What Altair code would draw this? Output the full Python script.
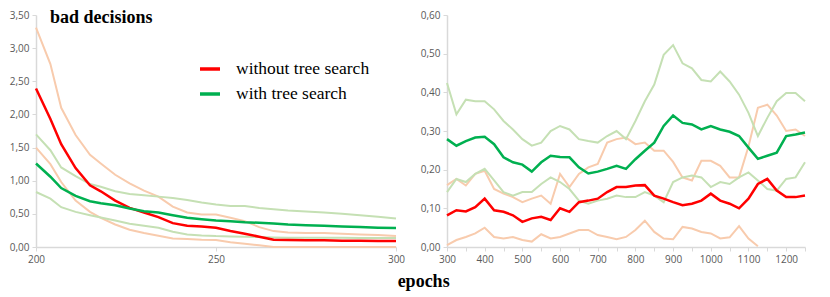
import altair as alt
import pandas as pd

# ---------------- left panel (epochs 200-300) ----------------
left_epochs = [200, 204, 207, 211, 215, 218, 222, 226, 230, 234, 238, 242, 246,
               250, 254, 258, 262, 266, 270, 275, 280, 285, 290, 295, 300]
left_without = [2.39, 1.93, 1.55, 1.19, 0.93, 0.84, 0.70, 0.59, 0.52, 0.45, 0.36, 0.32, 0.31,
                0.29, 0.24, 0.20, 0.155, 0.11, 0.105, 0.10, 0.10, 0.095, 0.095, 0.09, 0.09]
left_without_hi = [3.31, 2.76, 2.10, 1.69, 1.39, 1.26, 1.09, 0.96, 0.85, 0.76, 0.61, 0.52, 0.49,
                   0.49, 0.44, 0.39, 0.30, 0.24, 0.22, 0.21, 0.21, 0.20, 0.19, 0.18, 0.165]
left_without_lo = [1.50, 1.25, 0.98, 0.70, 0.53, 0.44, 0.34, 0.26, 0.21, 0.17, 0.13, 0.12, 0.11,
                   0.105, 0.07, 0.05, 0.025, 0.0, 0.0, 0.0, 0.0, 0.0, 0.0, 0.0, 0.0]
left_with = [1.26, 1.06, 0.89, 0.77, 0.69, 0.66, 0.63, 0.58, 0.54, 0.52, 0.48, 0.44, 0.42,
             0.40, 0.39, 0.375, 0.365, 0.355, 0.34, 0.33, 0.32, 0.31, 0.30, 0.29, 0.285]
left_with_hi = [1.70, 1.46, 1.20, 1.07, 0.95, 0.91, 0.84, 0.80, 0.78, 0.76, 0.74, 0.71, 0.67,
                0.64, 0.62, 0.62, 0.59, 0.57, 0.55, 0.535, 0.52, 0.50, 0.48, 0.455, 0.43]
left_with_lo = [0.83, 0.73, 0.60, 0.53, 0.48, 0.445, 0.40, 0.35, 0.32, 0.29, 0.23, 0.19, 0.175,
                0.165, 0.16, 0.155, 0.15, 0.145, 0.14, 0.14, 0.14, 0.14, 0.135, 0.135, 0.135]

# ---------------- right panel (epochs 300-1250) ----------------
right_epochs = [300, 325, 350, 375, 400, 425, 450, 475, 500, 525, 550, 575, 600, 625, 650,
                675, 700, 725, 750, 775, 800, 825, 850, 875, 900, 925, 950, 975, 1000, 1025,
                1050, 1075, 1100, 1125, 1150, 1175, 1200, 1225, 1250]
right_with = [0.279, 0.262, 0.274, 0.283, 0.285, 0.266, 0.232, 0.219, 0.213, 0.195, 0.219, 0.236,
              0.233, 0.232, 0.206, 0.190, 0.195, 0.202, 0.210, 0.202, 0.227, 0.249, 0.270, 0.313,
              0.340, 0.321, 0.317, 0.304, 0.313, 0.304, 0.298, 0.287, 0.257, 0.228, 0.236, 0.244,
              0.287, 0.291, 0.296]
right_with_hi = [0.424, 0.343, 0.381, 0.377, 0.377, 0.356, 0.326, 0.304, 0.279, 0.262, 0.270, 0.300,
                 0.313, 0.304, 0.279, 0.274, 0.270, 0.287, 0.300, 0.279, 0.326, 0.377, 0.420, 0.497,
                 0.522, 0.475, 0.462, 0.432, 0.428, 0.454, 0.428, 0.394, 0.347, 0.287, 0.334, 0.377,
                 0.398, 0.398, 0.377]
right_with_lo = [0.142, 0.176, 0.168, 0.189, 0.202, 0.172, 0.142, 0.133, 0.142, 0.142, 0.163, 0.180,
                 0.168, 0.150, 0.120, 0.112, 0.120, 0.125, 0.133, 0.129, 0.129, 0.142, 0.133, 0.116,
                 0.168, 0.180, 0.185, 0.180, 0.155, 0.168, 0.163, 0.180, 0.193, 0.172, 0.150, 0.146,
                 0.176, 0.180, 0.219]
right_without = [0.082, 0.095, 0.092, 0.103, 0.125, 0.095, 0.091, 0.082, 0.065, 0.074, 0.078, 0.070,
                 0.100, 0.091, 0.116, 0.120, 0.125, 0.142, 0.155, 0.155, 0.159, 0.160, 0.133, 0.125,
                 0.116, 0.108, 0.112, 0.120, 0.138, 0.120, 0.112, 0.100, 0.125, 0.163, 0.176, 0.146,
                 0.129, 0.129, 0.133]
right_without_hi = [0.160, 0.176, 0.159, 0.189, 0.197, 0.150, 0.138, 0.129, 0.116, 0.125, 0.133, 0.112,
                    0.189, 0.155, 0.189, 0.206, 0.215, 0.270, 0.279, 0.283, 0.266, 0.270, 0.249, 0.249,
                    0.220, 0.180, 0.172, 0.223, 0.223, 0.210, 0.180, 0.180, 0.260, 0.360, 0.368, 0.340,
                    0.300, 0.304, 0.287]
right_without_lo = [0.005, 0.018, 0.026, 0.035, 0.050, 0.026, 0.022, 0.026, 0.018, 0.014, 0.033, 0.022,
                    0.026, 0.035, 0.044, 0.044, 0.031, 0.026, 0.020, 0.026, 0.044, 0.068, 0.039, 0.022,
                    0.020, 0.052, 0.048, 0.039, 0.035, 0.022, 0.025, 0.054, 0.022, 0.002, None, None,
                    None, None, None]

series_names = ["without tree search", "with tree search"]
main_colors = ["#ff0000", "#00b050"]
band_colors = ["#f8cbad", "#c5e0b4"]


def long_df(epochs, groups):
    rows = []
    for series, kind, vals in groups:
        for e, v in zip(epochs, vals):
            rows.append({"epoch": e, "series": series, "kind": kind, "value": v})
    return pd.DataFrame(rows)


left_df = long_df(left_epochs, [
    ("without tree search", "hi", left_without_hi),
    ("without tree search", "lo", left_without_lo),
    ("with tree search", "hi", left_with_hi),
    ("with tree search", "lo", left_with_lo),
    ("without tree search", "mean", left_without),
    ("with tree search", "mean", left_with),
])
right_df = long_df(right_epochs, [
    ("without tree search", "hi", right_without_hi),
    ("without tree search", "lo", right_without_lo),
    ("with tree search", "hi", right_with_hi),
    ("with tree search", "lo", right_with_lo),
    ("without tree search", "mean", right_without),
    ("with tree search", "mean", right_with),
])

ylabel = "replace(format(datum.value, '.2f'), '.', ',')"


def panel(df, xdom, xvals, xlabelexpr, ydom, yvals, width, height, show_legend):
    x = alt.X("epoch:Q", scale=alt.Scale(domain=xdom, nice=False, zero=False),
              axis=alt.Axis(values=xvals, title=None, labelExpr=xlabelexpr, labelFlush=False))
    y = alt.Y("value:Q", scale=alt.Scale(domain=ydom, nice=False, zero=False),
              axis=alt.Axis(values=yvals, title=None, labelExpr=ylabel))
    base = alt.Chart(df)
    layers = []
    for s, bc in zip(series_names, band_colors):
        layers.append(
            base.transform_filter(
                (alt.datum.series == s) & (alt.datum.kind != "mean")
            ).mark_line(strokeWidth=2, color=bc).encode(x=x, y=y, detail="kind:N")
        )
    if show_legend:
        leg = alt.Legend(title=None, orient="none", legendX=162, legendY=42,
                         symbolType="stroke", symbolSize=400, symbolStrokeWidth=3.5,
                         labelFont="Liberation Serif", labelFontSize=17.5, labelColor="black",
                         labelOffset=14, rowPadding=4, labelLimit=300)
    else:
        leg = None
    color = alt.Color("series:N", sort=series_names,
                      scale=alt.Scale(domain=series_names, range=main_colors),
                      legend=leg)
    layers.append(
        base.transform_filter(alt.datum.kind == "mean")
        .mark_line(strokeWidth=2.5).encode(x=x, y=y, color=color)
    )
    return alt.layer(*layers).properties(width=width, height=height)


left = panel(left_df, [200, 300], [200, 250, 300], "datum.label",
             [0, 3.5], [0, 0.5, 1, 1.5, 2, 2.5, 3, 3.5], 360, 232, True)

title_df = pd.DataFrame({"t": ["bad decisions"]})
title_text = alt.Chart(title_df).mark_text(
    align="left", baseline="alphabetic", font="Liberation Serif", fontSize=18,
    fontWeight="bold", color="black"
).encode(text="t:N", x=alt.value(14), y=alt.value(7.5))
left = alt.layer(left, title_text)

right = panel(right_df, [300, 1250], list(range(300, 1251, 50)),
              "datum.value % 100 == 0 ? format(datum.value, 'd') : ''",
              [0, 0.6], [0, 0.1, 0.2, 0.3, 0.4, 0.5, 0.6], 358, 232, False)

chart = alt.hconcat(left, right, spacing=13).resolve_scale(color="independent").resolve_legend(
    color="independent"
).properties(
    padding={"left": 0, "top": 0, "right": 0, "bottom": 0},
    title=alt.TitleParams("epochs", orient="bottom", anchor="middle", font="Liberation Serif",
                          fontSize=18, fontWeight="bold", color="black", offset=8, dx=14)
).configure_view(stroke="transparent").configure_axis(
    grid=False, domainColor="#d9d9d9", domainWidth=1.5, tickColor="#d9d9d9", tickSize=4,
    labelColor="#595959", labelFont="Open Sans", labelFontSize=10, labelPadding=3
)

chart.save("out.html", embed_options={"renderer": "svg", "actions": False})
